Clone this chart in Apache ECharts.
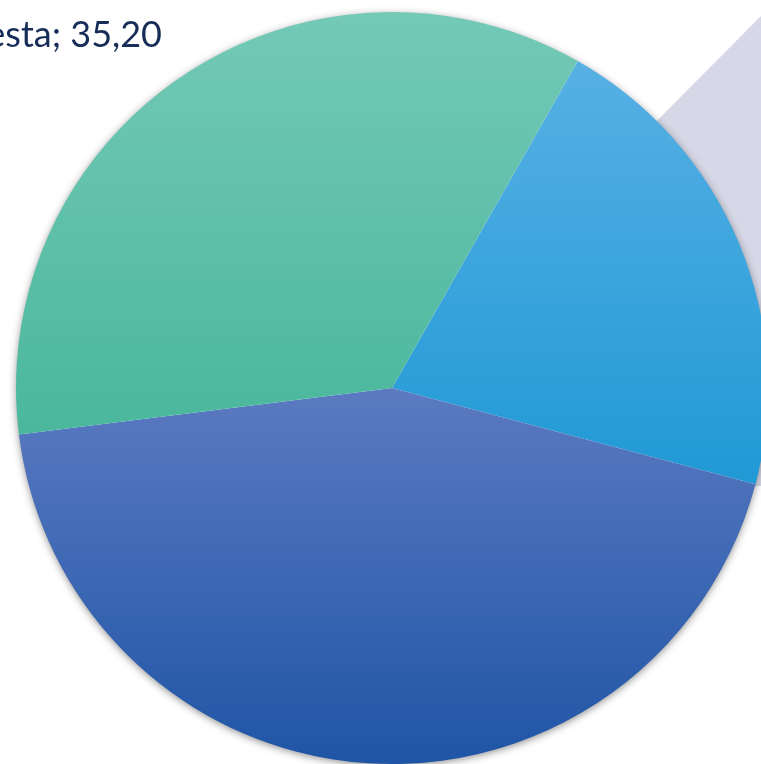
<!DOCTYPE html>
<html>
<head>
<meta charset="utf-8">
<script src="https://cdn.jsdelivr.net/npm/echarts@6/dist/echarts.min.js"></script>
<style>
  html, body { margin: 0; padding: 0; background: #ffffff; }
  #chart { width: 761px; height: 764px; }
</style>
</head>
<body>
<div id="chart"></div>
<script>
// slices, in drawing order (clockwise)
const names = ["Otra", "Respuesta", "Propuesta"];
const values = [20.9, 43.9, 35.2];
const topColors = ["#57b0e4", "#5b7ac1", "#74c9b7"];
const bottomColors = ["#2099d5", "#1f55a6", "#4ab79c"];

const fmt = (v) => v.toFixed(2).replace(".", ",");
const total = values.reduce((a, b) => a + b, 0);

const initChart = () => {
    const myChart = echarts.init(document.getElementById("chart"));

    const data = names.map((n, i) => ({
        name: n,
        value: values[i],
        itemStyle: {
            color: new echarts.graphic.LinearGradient(0, 0, 0, 1, [
                { offset: 0, color: topColors[i] },
                { offset: 1, color: bottomColors[i] }
            ])
        },
        label: { show: i === 2 },
        labelLine: { show: false }
    }));

    const option = {
        backgroundColor: "#ffffff",
        animation: false,
        graphic: [
            {
                type: "polygon",
                z: -10,
                shape: { points: [[762, 15], [600, 178], [600, 486], [762, 486]] },
                style: { fill: "#d7d8e7" }
            }
        ],
        series: [
            {
                // shadow disc under the pie
                type: "pie",
                z: 1,
                silent: true,
                center: [392, 388],
                radius: 375,
                data: [{ value: total }],
                label: { show: false },
                labelLine: { show: false },
                itemStyle: {
                    color: "#ffffff",
                    shadowBlur: 8,
                    shadowColor: "rgba(0,0,0,0.5)",
                    shadowOffsetY: 2
                },
                emphasis: { disabled: true }
            },
            {
                type: "pie",
                z: 2,
                center: [392, 388],
                radius: 376,
                startAngle: 60.4,
                clockwise: true,
                data: data,
                itemStyle: { borderWidth: 0 },
                label: {
                    position: "outside",
                    formatter: (p) => p.name + "; " + fmt(p.value),
                    color: "#172d58",
                    fontFamily: "Lato",
                    fontSize: 36,
                    overflow: "none",
                    width: 500
                },
                labelLayout: () => ({
                    x: 162,
                    y: 35,
                    align: "right",
                    verticalAlign: "middle"
                }),
                emphasis: { disabled: true }
            }
        ]
    };

    myChart.setOption(option);
};

window.addEventListener("load", () => {
    initChart();
});
</script>
</body>
</html>
